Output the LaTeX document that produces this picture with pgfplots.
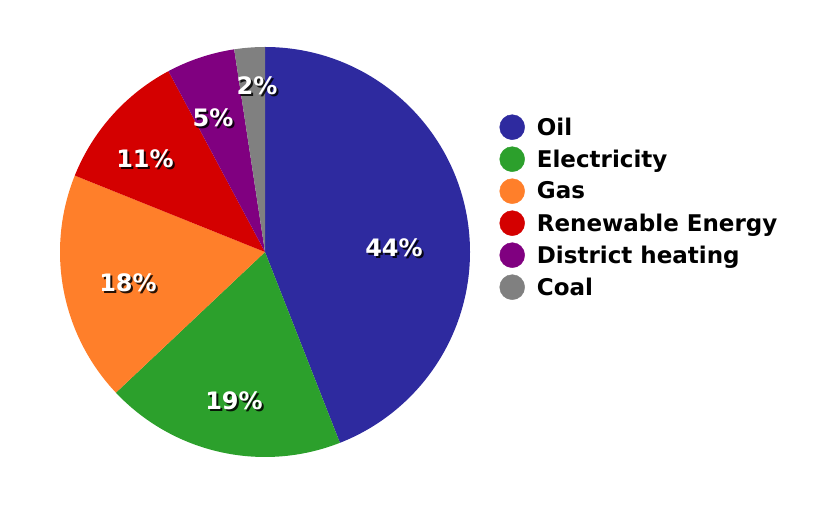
\documentclass[border=0pt]{standalone}
\usepackage{pgfplots}
\usepackage{pgfplotstable}
\pgfplotsset{compat=1.18}
\usepackage{fontspec}
\setmainfont{DejaVu Sans}

\definecolor{cOil}{HTML}{2E2A9F}
\definecolor{cElec}{HTML}{2CA02C}
\definecolor{cGas}{HTML}{FF7F2A}
\definecolor{cRen}{HTML}{D40000}
\definecolor{cDist}{HTML}{800080}
\definecolor{cCoal}{HTML}{808080}

\tikzset{pct/.style={font=\fontsize{24bp}{28bp}\selectfont\bfseries, inner sep=0pt}}

% share in %, colour, label position (image pixels)
\pgfplotstableread[col sep=comma]{
name,value,color,lx,ly
Oil,44.0,cOil,394,248
Electricity,18.9,cElec,234,401
Gas,18.1,cGas,128,283
Renewable Energy,11.1,cRen,145,159
District heating,5.4,cDist,213,118
Coal,2.4,cCoal,257,86
}\energy

\pgfplotstablegetrowsof{\energy}
\pgfmathtruncatemacro\lastrow{\pgfplotsretval-1}

% total
\def\total{0}
\pgfplotsforeachungrouped \i in {0,...,\lastrow}{%
  \pgfplotstablegetelem{\i}{value}\of\energy
  \pgfmathsetmacro\total{\total+\pgfplotsretval}%
}

% build the wedge / label / legend commands
\def\piecmds{}
\def\labelcmds{}
\def\angA{90}
\pgfplotsforeachungrouped \i in {0,...,\lastrow}{%
  \pgfplotstablegetelem{\i}{value}\of\energy \let\v\pgfplotsretval
  \pgfplotstablegetelem{\i}{color}\of\energy \let\c\pgfplotsretval
  \pgfplotstablegetelem{\i}{name}\of\energy \let\n\pgfplotsretval
  \pgfplotstablegetelem{\i}{lx}\of\energy \let\lx\pgfplotsretval
  \pgfplotstablegetelem{\i}{ly}\of\energy \pgfmathsetmacro\ly{512-\pgfplotsretval}
  \pgfmathsetmacro\angB{\angA-\v/\total*360}
  \pgfmathtruncatemacro\p{round(\v)}
  \pgfmathsetmacro\sx{\lx+2}
  \pgfmathsetmacro\sy{\ly-2}
  \edef\piecmds{\unexpanded\expandafter{\piecmds}%
    \noexpand\fill[\c] (axis cs:265,260) -- ++(\angA:205bp)
      arc[start angle=\angA, end angle=\angB, radius=205bp] -- cycle;
    \noexpand\addlegendimage{\c}\noexpand\addlegendentry{\n}}%
  \edef\labelcmds{\unexpanded\expandafter{\labelcmds}%
    \noexpand\node[pct, text=black, opacity=0.85] at (axis cs:\sx,\sy) {\p\noexpand\%};
    \noexpand\node[pct, text=white] at (axis cs:\lx,\ly) {\p\noexpand\%};}%
  \let\angA\angB
}

\begin{document}
\begin{tikzpicture}
\begin{axis}[
  hide axis, scale only axis,
  width=832bp, height=512bp,
  xmin=0, xmax=832, ymin=0, ymax=512,
  clip=false,
  legend image code/.code={\fill[#1] (0bp,0bp) circle (12.5bp);},
  legend cell align=left,
  legend style={draw=none, fill=none, inner sep=0pt, outer sep=0pt,
    at={(axis cs:499.5,397.5)}, anchor=north west,
    font=\fontsize{23bp}{27bp}\selectfont\bfseries,
    row sep=6.6bp,
    /tikz/every odd column/.append style={column sep=10bp}},
]
\path (axis cs:0,0) rectangle (axis cs:832,512);
\piecmds
\labelcmds
\end{axis}
\end{tikzpicture}
\end{document}
